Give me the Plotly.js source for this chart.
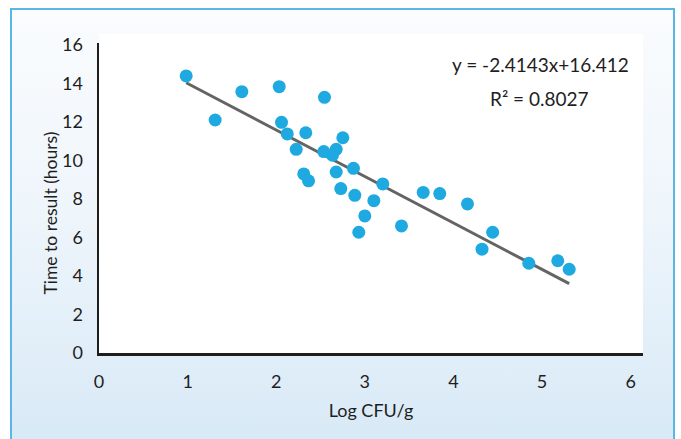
<!DOCTYPE html>
<html>
<head>
<meta charset="utf-8">
<script src="https://cdn.plot.ly/plotly-3.0.1.min.js"></script>
<style>
  html, body { margin: 0; padding: 0; width: 681px; height: 439px; overflow: hidden; background: #ffffff; }
  #frame { position: absolute; left: 10px; top: 8px; width: 661px; height: 460px;
           border: 2px solid #5ab6e6; border-bottom: none;
           background: linear-gradient(to bottom, #fafcfe 0%, #eef5fb 45%, #d5e8f6 100%); }
  #chart { position: absolute; left: 0; top: 0; width: 681px; height: 439px; }
</style>
</head>
<body>
<div id="frame"></div>
<div id="chart"></div>
<script>
// Data
const logCFU = [0.984, 1.311, 1.612, 2.034, 2.06, 2.125, 2.334, 2.226, 2.545, 2.752,
                2.537, 2.677, 2.635, 2.311, 2.365, 2.677, 2.872, 2.729, 2.887, 3.203,
                3.102, 3.0, 2.932, 3.414, 3.659, 3.846, 4.159, 4.443, 4.323, 4.851,
                5.178, 5.307];
const hours = [14.39, 12.10, 13.57, 13.83, 11.98, 11.38, 11.44, 10.58, 13.28, 11.18,
               10.46, 10.58, 10.27, 9.30, 8.94, 9.40, 9.59, 8.54, 8.19, 8.78,
               7.91, 7.12, 6.27, 6.60, 8.34, 8.28, 7.74, 6.27, 5.39, 4.66,
               4.79, 4.35];
const trendSlope = -2.4143;
const trendIntercept = 16.412;
const rSquared = 0.8027;
const xTicks = [0, 1, 2, 3, 4, 5, 6];
const yTicks = [0, 2, 4, 6, 8, 10, 12, 14, 16];
const xTitle = 'Log CFU/g';
const yTitle = 'Time to result (hours)';

const xMin = Math.min(...logCFU), xMax = Math.max(...logCFU);
const trendX = [xMin, xMax];
const trendY = trendX.map(x => trendSlope * x + trendIntercept);

const font = 'Lato, "Open Sans", sans-serif';
const ink = '#1e1e1e';

const traces = [
  { x: trendX, y: trendY, mode: 'lines', type: 'scatter',
    line: { color: '#646464', width: 3 }, hoverinfo: 'skip', showlegend: false },
  { x: logCFU, y: hours, mode: 'markers', type: 'scatter',
    marker: { color: '#1fa9e1', size: 13, line: { width: 0 } }, showlegend: false }
];

const layout = {
  width: 681, height: 439,
  margin: { l: 99, r: 38, t: 43, b: 86, pad: 0 },
  paper_bgcolor: 'rgba(0,0,0,0)',
  plot_bgcolor: '#ffffff',
  font: { family: font, size: 17, color: ink },
  showlegend: false,
  xaxis: {
    range: [0, 6.14], tickvals: xTicks, ticktext: xTicks.map(String),
    showgrid: false, zeroline: false, showline: true, linecolor: ink, linewidth: 2.5,
    ticks: '', ticklabelstandoff: 11, tickfont: { size: 18, family: font, color: ink },
    title: { text: xTitle, font: { size: 18, family: font, color: ink }, standoff: 14 },
    fixedrange: true
  },
  yaxis: {
    range: [0, 16.1], tickvals: yTicks, ticktext: yTicks.map(String),
    showgrid: false, zeroline: false, showline: true, linecolor: ink, linewidth: 2.5,
    ticks: '', ticklabelstandoff: 10, tickfont: { size: 18, family: font, color: ink },
    fixedrange: true
  },
  shapes: [
    { type: 'rect', xref: 'paper', yref: 'paper', x0: 0, x1: 1, y0: 0, y1: 1.03,
      fillcolor: '#ffffff', line: { width: 0 }, layer: 'below' }
  ],
  annotations: [
    { xref: 'paper', yref: 'paper', x: -0.09, y: 0.45, xanchor: 'center', yanchor: 'middle',
      textangle: -90, showarrow: false, text: yTitle,
      font: { size: 17.5, family: font, color: ink } },
    { xref: 'paper', yref: 'paper', x: 0.812, y: 0.932, xanchor: 'center', yanchor: 'middle',
      showarrow: false, text: 'y = ' + trendSlope + 'x+' + trendIntercept,
      font: { size: 19, family: font, color: ink } },
    { xref: 'paper', yref: 'paper', x: 0.81, y: 0.82, xanchor: 'center', yanchor: 'middle',
      showarrow: false, text: 'R² = ' + rSquared,
      font: { size: 19, family: font, color: ink } }
  ]
};

Plotly.newPlot('chart', traces, layout, { displayModeBar: false, staticPlot: true });
</script>
</body>
</html>
